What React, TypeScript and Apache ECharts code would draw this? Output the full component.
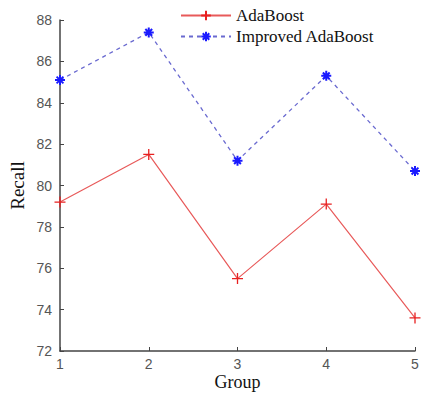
import React, { useEffect, useRef } from "react";
import * as echarts from "echarts";

const groups = ["1", "2", "3", "4", "5"];
const adaBoost = [79.2, 81.5, 75.5, 79.1, 73.6];
const improvedAdaBoost = [85.1, 87.4, 81.2, 85.3, 80.7];
const seriesNames = ["AdaBoost", "Improved AdaBoost"];

const plusSymbol = "path://M5,0L5,10M0,5L10,5";
const starSymbol = "path://M5,0L5,10M0,5L10,5M1.6,1.6L8.4,8.4M8.4,1.6L1.6,8.4";

export default function App() {
  const ref = useRef<HTMLDivElement>(null);
  useEffect(() => {
    if (!ref.current) return;
    const chart = echarts.init(ref.current, undefined, { renderer: "svg" });
    chart.setOption({
      animation: false,
      backgroundColor: "#ffffff",
      grid: { left: 60, right: 6, top: 20, bottom: 42, containLabel: false, outerBoundsMode: "none" },
      legend: {
        orient: "vertical",
        left: 177,
        top: 4,
        padding: 3,
        itemWidth: 50,
        itemHeight: 12,
        itemGap: 4,
        textStyle: { fontFamily: "Liberation Serif", fontSize: 17, color: "#111" },
        data: seriesNames,
      },
      xAxis: {
        type: "category",
        data: groups,
        boundaryGap: false,
        name: "Group",
        nameLocation: "middle",
        nameGap: 22,
        nameMoveOverlap: false,
        nameTextStyle: { fontFamily: "Liberation Serif", fontSize: 18, lineHeight: 18, color: "#111" },
        axisLine: { lineStyle: { color: "#444", width: 1.5 } },
        axisTick: { inside: true, length: 4, lineStyle: { color: "#444" } },
        axisLabel: { fontFamily: "Liberation Sans", fontSize: 14, lineHeight: 14, color: "#555", margin: 6 },
        splitLine: { show: false },
      },
      yAxis: {
        type: "value",
        min: 72,
        max: 88,
        interval: 2,
        name: "Recall",
        nameLocation: "middle",
        nameGap: 33,
        nameMoveOverlap: false,
        nameRotate: 90,
        nameTextStyle: { fontFamily: "Liberation Serif", fontSize: 19, color: "#111" },
        axisLine: { show: true, lineStyle: { color: "#444", width: 1.5 } },
        axisTick: { show: true, inside: true, length: 4, lineStyle: { color: "#444" } },
        axisLabel: { fontFamily: "Liberation Sans", fontSize: 14, color: "#555", margin: 8 },
        splitLine: { show: false },
      },
      series: [
        {
          name: seriesNames[0],
          type: "line",
          data: adaBoost,
          symbol: plusSymbol,
          symbolSize: 11,
          showAllSymbol: true,
          lineStyle: { color: "#e85a5a", width: 1.2 },
          itemStyle: { color: "#e82020", borderColor: "#e82020", borderWidth: 1.3 },
        },
        {
          name: seriesNames[1],
          type: "line",
          data: improvedAdaBoost,
          symbol: starSymbol,
          symbolSize: 10,
          showAllSymbol: true,
          lineStyle: { color: "#6a6ad0", width: 1.3, type: [4, 4] },
          itemStyle: { color: "#1a1aff", borderColor: "#1a1aff", borderWidth: 2 },
        },
      ],
    });
    return () => chart.dispose();
  }, []);
  return (
    <div
      ref={ref}
      style={{ position: "fixed", left: 0, top: 0, width: 421, height: 393 }}
    />
  );
}
